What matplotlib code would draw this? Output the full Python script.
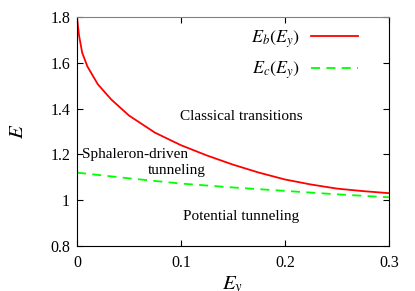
import matplotlib

matplotlib.use("Agg")
import matplotlib.pyplot as plt

# Values
ey_b = [0.0, 0.002, 0.005, 0.01, 0.02, 0.033, 0.05, 0.075, 0.1, 0.125,
        0.15, 0.175, 0.2, 0.225, 0.25, 0.275, 0.3]
e_b = [1.80, 1.72, 1.645, 1.585, 1.507, 1.44, 1.37, 1.295, 1.24, 1.195,
       1.155, 1.12, 1.09, 1.068, 1.05, 1.039, 1.03]

ey_c = [0.0, 0.05, 0.1, 0.15, 0.2, 0.25, 0.3]
e_c = [1.12, 1.095, 1.072, 1.055, 1.04, 1.025, 1.012]

x_ticks = [0, 0.1, 0.2, 0.3]
x_labels = ["0", "0.1", "0.2", "0.3"]
y_ticks = [0.8, 1.0, 1.2, 1.4, 1.6, 1.8]
y_labels = ["0.8", "1", "1.2", "1.4", "1.6", "1.8"]

plt.rcParams["font.family"] = ["Liberation Serif", "DejaVu Serif"]
plt.rcParams["mathtext.fontset"] = "stix"

fig = plt.figure(figsize=(4.15, 2.91), dpi=100)
ax = fig.add_axes([0.1855, 0.1557, 0.7515, 0.7848])

ax.plot(ey_b, e_b, color="#ff0000", lw=1.3, label=r"$E_b(E_y)$")
ax.plot(ey_c, e_c, color="#00ff00", lw=1.3, ls=(0, (5, 3.5)), label=r"$E_c(E_y)$")

ax.set_xlim(0, 0.3)
ax.set_ylim(0.8, 1.8)
ax.set_xticks(x_ticks, x_labels)
ax.set_yticks(y_ticks, y_labels)
ax.tick_params(direction="in", top=True, right=True, length=4, width=0.8,
               labelsize=11.5)
ax.tick_params(axis="x", pad=7)
ax.tick_params(axis="y", pad=5)
ax.spines["top"].set_color("#808080")

ax.set_xlabel(r"$E_y$", fontsize=15, labelpad=2)
ax.set_ylabel(r"$E$", fontsize=15, labelpad=16)

ax.text(0.158, 1.364, "Classical transitions", ha="center", va="center", fontsize=11)
ax.text(0.005, 1.2, "Sphaleron-driven", ha="left", va="center", fontsize=11)
ax.text(0.096, 1.13, "tunneling", ha="center", va="center", fontsize=11)
ax.text(0.158, 0.93, "Potential tunneling", ha="center", va="center", fontsize=11)

ax.legend(loc="upper right", frameon=False, markerfirst=False, fontsize=13,
          handlelength=2.6, borderaxespad=0.2, labelspacing=0.55,
          handletextpad=0.6, bbox_to_anchor=(0.935, 1.0))

fig.savefig("out.png", dpi=100)
